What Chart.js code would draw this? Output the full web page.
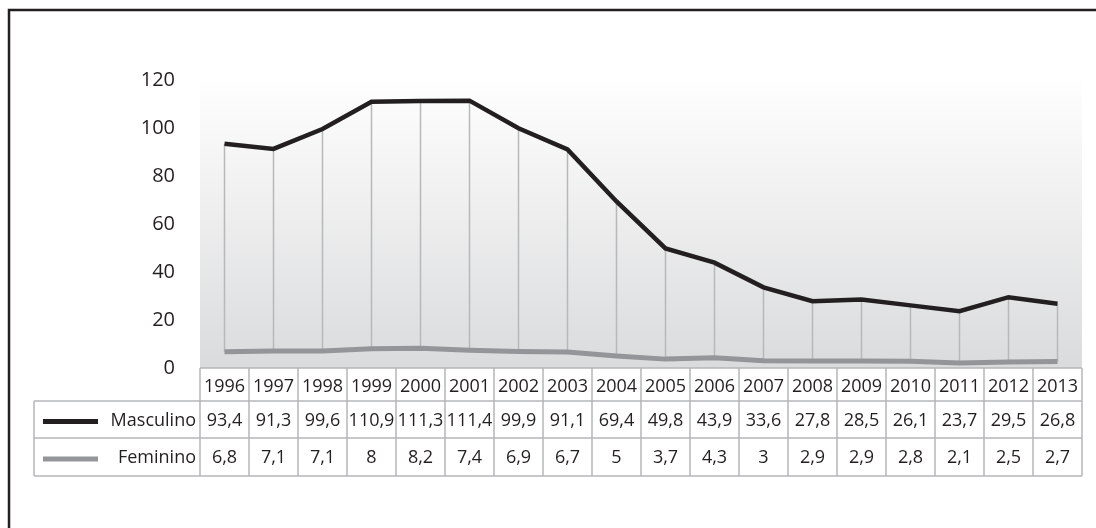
<!DOCTYPE html>
<html>
<head>
<meta charset="utf-8">
<script src="https://cdn.jsdelivr.net/npm/chart.js@4.4.1/dist/chart.umd.min.js"></script>
<style>
  html, body { margin: 0; padding: 0; background: #fff; }
  #wrap { width: 1096px; height: 528px; }
</style>
</head>
<body>
<div id="wrap"><canvas id="chart"></canvas></div>
<script>
const years = ['1996','1997','1998','1999','2000','2001','2002','2003','2004',
               '2005','2006','2007','2008','2009','2010','2011','2012','2013'];
const masculino = [93.4, 91.3, 99.6, 110.9, 111.3, 111.4, 99.9, 91.1, 69.4,
                   49.8, 43.9, 33.6, 27.8, 28.5, 26.1, 23.7, 29.5, 26.8];
const feminino = [6.8, 7.1, 7.1, 8, 8.2, 7.4, 6.9, 6.7, 5,
                  3.7, 4.3, 3, 2.9, 2.9, 2.8, 2.1, 2.5, 2.7];
const seriesNames = ['Masculino', 'Feminino'];
const seriesColors = ['#231f20', '#939598'];

const textColor = '#231f20';
const fontFamily = '"Open Sans", "Noto Sans", sans-serif';

function fmt(v) {
  return String(v).replace('.', ',');
}

// frame, gradient plot background, high-low lines and the data table
const extras = {
  id: 'extras',
  beforeDraw(chart) {
    const ctx = chart.ctx;
    const a = chart.chartArea;
    ctx.save();
    ctx.strokeStyle = '#231f20';
    ctx.lineWidth = 2.5;
    ctx.strokeRect(9, 10, 1300, 700);

    const g = ctx.createLinearGradient(0, a.top - 4, 0, a.bottom);
    g.addColorStop(0, '#ffffff');
    g.addColorStop(1, '#dadbdc');
    ctx.fillStyle = g;
    ctx.fillRect(a.left, a.top - 4, a.right - a.left, a.bottom - a.top + 4);
    ctx.restore();
  },
  beforeDatasetsDraw(chart) {
    const ctx = chart.ctx;
    const x = chart.scales.x, y = chart.scales.y;
    ctx.save();
    ctx.strokeStyle = '#b7b8ba';
    ctx.lineWidth = 1.5;
    years.forEach((yr, i) => {
      const px = x.getPixelForValue(i);
      ctx.beginPath();
      ctx.moveTo(px, y.getPixelForValue(masculino[i]));
      ctx.lineTo(px, y.getPixelForValue(feminino[i]));
      ctx.stroke();
    });
    ctx.restore();
  },
  afterDraw(chart) {
    const ctx = chart.ctx;
    const a = chart.chartArea;
    const x = chart.scales.x;
    const band = (a.right - a.left) / years.length;
    const rows = [a.bottom, a.bottom + 33, a.bottom + 70, a.bottom + 108];
    const labelLeft = 34;

    ctx.save();
    ctx.fillStyle = '#ffffff';
    ctx.fillRect(a.left, rows[0], a.right - a.left, rows[1] - rows[0]);
    ctx.fillRect(labelLeft, rows[1], a.right - labelLeft, rows[3] - rows[1]);

    ctx.strokeStyle = '#b5b6b8';
    ctx.lineWidth = 1.5;
    ctx.beginPath();
    ctx.moveTo(a.left, rows[0]); ctx.lineTo(a.right, rows[0]);
    for (let r = 1; r < rows.length; r++) {
      ctx.moveTo(labelLeft, rows[r]); ctx.lineTo(a.right, rows[r]);
    }
    ctx.moveTo(labelLeft, rows[1]); ctx.lineTo(labelLeft, rows[3]);
    for (let i = 0; i <= years.length; i++) {
      const px = a.left + i * band;
      ctx.moveTo(px, rows[0]); ctx.lineTo(px, rows[3]);
    }
    ctx.stroke();

    ctx.fillStyle = textColor;
    ctx.font = '18px ' + fontFamily;
    ctx.textAlign = 'center';
    ctx.textBaseline = 'middle';
    const series = [masculino, feminino];
    years.forEach((yr, i) => {
      const px = x.getPixelForValue(i);
      ctx.fillText(yr, px, (rows[0] + rows[1]) / 2 + 2);
      series.forEach((s, k) => {
        ctx.fillText(fmt(s[i]), px, (rows[k + 1] + rows[k + 2]) / 2 + 1);
      });
    });

    ctx.textAlign = 'right';
    seriesNames.forEach((name, k) => {
      const cy = (rows[k + 1] + rows[k + 2]) / 2;
      ctx.fillStyle = textColor;
      ctx.fillText(name, a.left - 4, cy + 1);
      ctx.strokeStyle = seriesColors[k];
      ctx.lineWidth = 5;
      ctx.beginPath();
      ctx.moveTo(43, cy + 2);
      ctx.lineTo(98, cy + 2);
      ctx.stroke();
    });
    ctx.restore();
  }
};

new Chart(document.getElementById('chart'), {
  type: 'line',
  data: {
    labels: years,
    datasets: [{
      label: seriesNames[0],
      data: masculino,
      borderColor: seriesColors[0],
      borderWidth: 4.5,
      pointRadius: 0,
      tension: 0
    }, {
      label: seriesNames[1],
      data: feminino,
      borderColor: seriesColors[1],
      borderWidth: 5,
      pointRadius: 0,
      tension: 0
    }]
  },
  options: {
    responsive: true,
    maintainAspectRatio: false,
    animation: false,
    layout: { padding: { top: 80, right: 14, bottom: 160, left: 0 } },
    scales: {
      x: { type: 'category', display: false, offset: true },
      y: {
        min: 0,
        max: 120,
        afterFit: s => { s.width = 200; },
        ticks: { stepSize: 20, padding: 25, color: textColor, font: { size: 20, family: fontFamily } },
        grid: { display: false, drawTicks: false },
        border: { display: false }
      }
    },
    plugins: {
      legend: { display: false },
      tooltip: { enabled: false }
    }
  },
  plugins: [extras]
});
</script>
</body>
</html>
